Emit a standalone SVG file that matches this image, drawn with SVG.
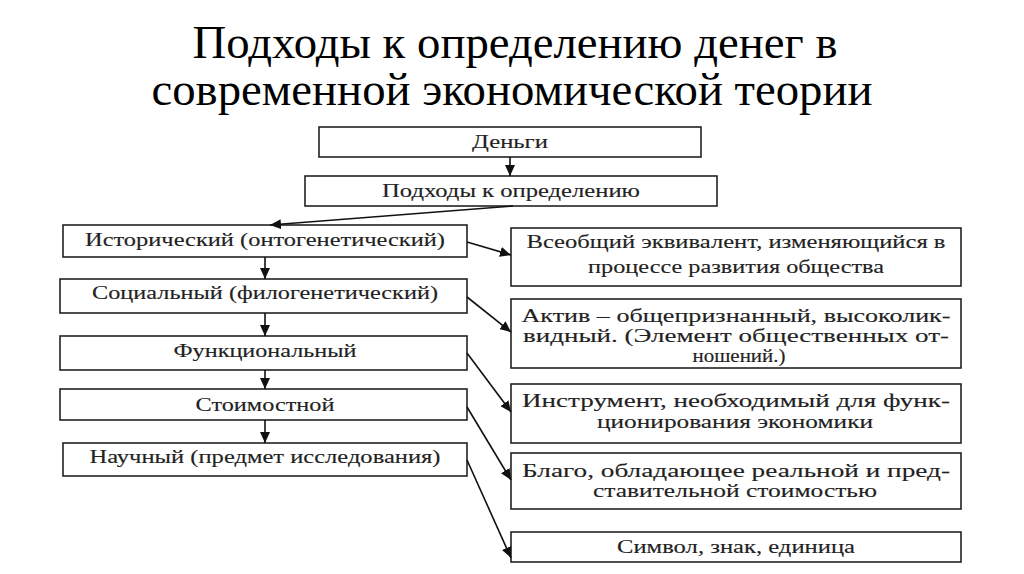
<svg xmlns="http://www.w3.org/2000/svg" width="1024" height="574" viewBox="0 0 1024 574">
<style>
.title{font-family:'Liberation Serif','DejaVu Serif',serif;font-size:46px;fill:#000;text-anchor:middle}
.box{fill:#fff;stroke:#222;stroke-width:1.6}
.t{font-family:'Liberation Serif','DejaVu Serif',serif;font-size:18px;fill:#222;stroke:#222;stroke-width:0.12;text-anchor:middle}
.c{stroke:#111;stroke-width:1.6;fill:none;marker-end:url(#ah)}
</style>
<defs>
<marker id="ah" markerUnits="userSpaceOnUse" markerWidth="12" markerHeight="10" refX="11" refY="5" orient="auto">
<path d="M0,0 L11,5 L0,10 Z" fill="#111"/>
</marker>
</defs>
<rect width="1024" height="574" fill="#fff"/>
<g id="title">
<text class="title" x="515" y="58" textLength="645" lengthAdjust="spacingAndGlyphs">Подходы к определению денег в</text>
<text class="title" x="512" y="105" textLength="721" lengthAdjust="spacingAndGlyphs">современной экономической теории</text>
</g>
<g id="n-money"><rect class="box" x="319" y="127" width="382" height="30"/><text class="t" x="510" y="148" textLength="76" lengthAdjust="spacingAndGlyphs">Деньги</text></g>
<g id="n-approaches"><rect class="box" x="305" y="176" width="412" height="30"/><text class="t" x="511" y="197" textLength="258" lengthAdjust="spacingAndGlyphs">Подходы к определению</text></g>
<g id="n-hist"><rect class="box" x="63" y="225" width="404" height="32"/><text class="t" x="265" y="246" textLength="360" lengthAdjust="spacingAndGlyphs">Исторический (онтогенетический)</text></g>
<g id="n-soc"><rect class="box" x="60" y="279" width="407" height="34"/><text class="t" x="265" y="299" textLength="346" lengthAdjust="spacingAndGlyphs">Социальный (филогенетический)</text></g>
<g id="n-func"><rect class="box" x="60" y="336" width="407" height="34"/><text class="t" x="265" y="357" textLength="183" lengthAdjust="spacingAndGlyphs">Функциональный</text></g>
<g id="n-value"><rect class="box" x="60" y="389" width="407" height="31"/><text class="t" x="265" y="411" textLength="139" lengthAdjust="spacingAndGlyphs">Стоимостной</text></g>
<g id="n-sci"><rect class="box" x="63" y="443" width="404" height="33"/><text class="t" x="265" y="463" textLength="351" lengthAdjust="spacingAndGlyphs">Научный (предмет исследования)</text></g>
<g id="r1"><rect class="box" x="511" y="228" width="450" height="58"/>
<text class="t" x="736" y="248" textLength="419" lengthAdjust="spacingAndGlyphs">Всеобщий эквивалент, изменяющийся в</text>
<text class="t" x="736" y="273" textLength="296" lengthAdjust="spacingAndGlyphs">процессе развития общества</text></g>
<g id="r2"><rect class="box" x="511" y="299" width="450" height="69"/>
<text class="t" x="736" y="322" textLength="429" lengthAdjust="spacingAndGlyphs">Актив – общепризнанный, высоколик-</text>
<text class="t" x="736" y="342" textLength="426" lengthAdjust="spacingAndGlyphs">видный. (Элемент общественных от-</text>
<text class="t" x="739" y="362" textLength="93" lengthAdjust="spacingAndGlyphs">ношений.)</text></g>
<g id="r3"><rect class="box" x="511" y="384" width="450" height="59"/>
<text class="t" x="736" y="407" textLength="428" lengthAdjust="spacingAndGlyphs">Инструмент, необходимый для функ-</text>
<text class="t" x="735" y="428" textLength="276" lengthAdjust="spacingAndGlyphs">ционирования экономики</text></g>
<g id="r4"><rect class="box" x="511" y="453" width="450" height="56"/>
<text class="t" x="736" y="477" textLength="428" lengthAdjust="spacingAndGlyphs">Благо, обладающее реальной и пред-</text>
<text class="t" x="735" y="497" textLength="284" lengthAdjust="spacingAndGlyphs">ставительной стоимостью</text></g>
<g id="r5"><rect class="box" x="511" y="532" width="450" height="30"/>
<text class="t" x="736" y="553" textLength="238" lengthAdjust="spacingAndGlyphs">Символ, знак, единица</text></g>
<g id="connectors">
<line class="c" x1="510" y1="157" x2="510" y2="176"/>
<line class="c" x1="513" y1="206" x2="270" y2="225"/>
<line class="c" x1="265" y1="257" x2="265" y2="279"/>
<line class="c" x1="265" y1="313" x2="265" y2="336"/>
<line class="c" x1="265" y1="370" x2="265" y2="389"/>
<line class="c" x1="265" y1="420" x2="265" y2="443"/>
<line class="c" x1="467" y1="242" x2="511" y2="255"/>
<line class="c" x1="467" y1="297" x2="511" y2="332"/>
<line class="c" x1="467" y1="353" x2="511" y2="412"/>
<line class="c" x1="467" y1="407" x2="511" y2="480"/>
<line class="c" x1="467" y1="460" x2="511" y2="558"/>
</g>
</svg>
